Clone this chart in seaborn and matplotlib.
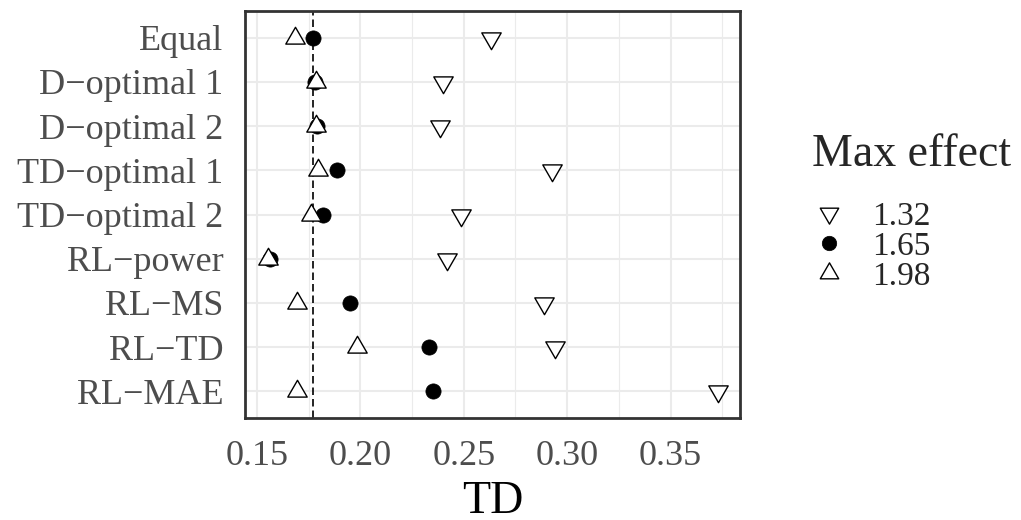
import numpy as np
import pandas as pd
import matplotlib
matplotlib.use("Agg")
import matplotlib.pyplot as plt
import seaborn as sns
from matplotlib.lines import Line2D
from matplotlib.path import Path
from matplotlib.ticker import MultipleLocator

# ---------------- data ----------------
designs = ["Equal", "D−optimal 1", "D−optimal 2", "TD−optimal 1", "TD−optimal 2",
           "RL−power", "RL−MS", "RL−TD", "RL−MAE"]
effect_levels = ["1.32", "1.65", "1.98"]
td_132 = [0.2631, 0.2400, 0.2385, 0.2925, 0.2486, 0.2417, 0.2886, 0.2941, 0.3727]
td_165 = [0.1773, 0.1780, 0.1788, 0.1889, 0.1817, 0.1564, 0.1950, 0.2333, 0.2349]
td_198 = [0.1684, 0.1785, 0.1787, 0.1795, 0.1760, 0.1551, 0.1692, 0.1984, 0.1692]
reference_td = 0.1773
x_ticks = [0.15, 0.20, 0.25, 0.30, 0.35]

series = {"1.32": td_132, "1.65": td_165, "1.98": td_198}
df = pd.concat([pd.DataFrame({"Design": designs, "TD": v, "Max effect": k})
                for k, v in series.items()], ignore_index=True)

# ---------------- style ----------------
sns.set_style("white")
plt.rcParams["font.family"] = ["Liberation Serif", "DejaVu Serif"]
plt.rcParams["axes.unicode_minus"] = True

tri_up = Path([(0, 1), (-0.866, -0.5), (0.866, -0.5), (0, 1)],
              [Path.MOVETO, Path.LINETO, Path.LINETO, Path.CLOSEPOLY])
tri_down = Path([(0, -1), (-0.866, 0.5), (0.866, 0.5), (0, -1)],
                [Path.MOVETO, Path.LINETO, Path.LINETO, Path.CLOSEPOLY])

marker_style = {
    "1.32": dict(marker=tri_down, s=260, color="white", edgecolor="black", linewidth=1.0),
    "1.65": dict(marker="o", s=120, color="black", edgecolor="black", linewidth=0.5),
    "1.98": dict(marker=tri_up, s=260, color="white", edgecolor="black", linewidth=1.0),
}

fig = plt.figure(figsize=(10.21, 5.20), dpi=100)
ax = fig.add_axes([245 / 1021, 1 - 418 / 520, 495 / 1021, 407 / 520])

# grid
grid_col = "#EBEBEB"
ax.xaxis.set_major_locator(MultipleLocator(0.05))
ax.xaxis.set_minor_locator(MultipleLocator(0.025))
ax.grid(which="major", axis="both", color=grid_col, linewidth=1.5, zorder=0)
ax.grid(which="minor", axis="x", color=grid_col, linewidth=0.8, zorder=0)
ax.set_axisbelow(True)

ax.axvline(reference_td, color="black", linestyle=(0, (4.5, 2.4)), linewidth=1.2, zorder=1)

for lvl in effect_levels:
    sub = df[df["Max effect"] == lvl]
    sns.scatterplot(data=sub, x="TD", y="Design", ax=ax, legend=False, zorder=3,
                    **marker_style[lvl])

# limits (ggplot-like expansion)
lo, hi = df["TD"].min(), df["TD"].max()
rng = hi - lo
ax.set_xlim(lo - 0.05 * rng, hi + 0.05 * rng)
ax.set_ylim(len(designs) - 1 + 0.6, -0.6)
ax.set_yticks(range(len(designs)))
ax.set_yticklabels(designs)
ax.set_xticks(x_ticks)
ax.set_xticklabels([f"{t:.2f}" for t in x_ticks])

for sp in ax.spines.values():
    sp.set_color("#333333")
    sp.set_linewidth(2.0)
ax.tick_params(axis="both", which="major", length=8.5, width=2.0, color="#333333",
               labelsize=26, labelcolor="#4D4D4D", pad=7)
ax.tick_params(axis="x", which="minor", length=0)

ax.set_xlabel("TD", fontsize=33, color="black", labelpad=6)
ax.set_ylabel("")

# legend
handles = []
for lvl in effect_levels:
    st = marker_style[lvl]
    handles.append(Line2D([], [], linestyle="", marker=st["marker"],
                          markersize=np.sqrt(st["s"]) * 0.95,
                          markerfacecolor=st["color"], markeredgecolor="black",
                          markeredgewidth=st["linewidth"]))
leg = fig.legend(handles, effect_levels, title="Max effect", loc="upper left",
                 bbox_to_anchor=(812 / 1021, 1 - 134 / 520), frameon=False,
                 fontsize=24, title_fontsize=33, alignment="left",
                 borderpad=0, borderaxespad=0, handlelength=1.04, handletextpad=0.75,
                 labelspacing=-0.02)
leg._legend_box.sep = 18

fig.savefig("out.png", dpi=100)
